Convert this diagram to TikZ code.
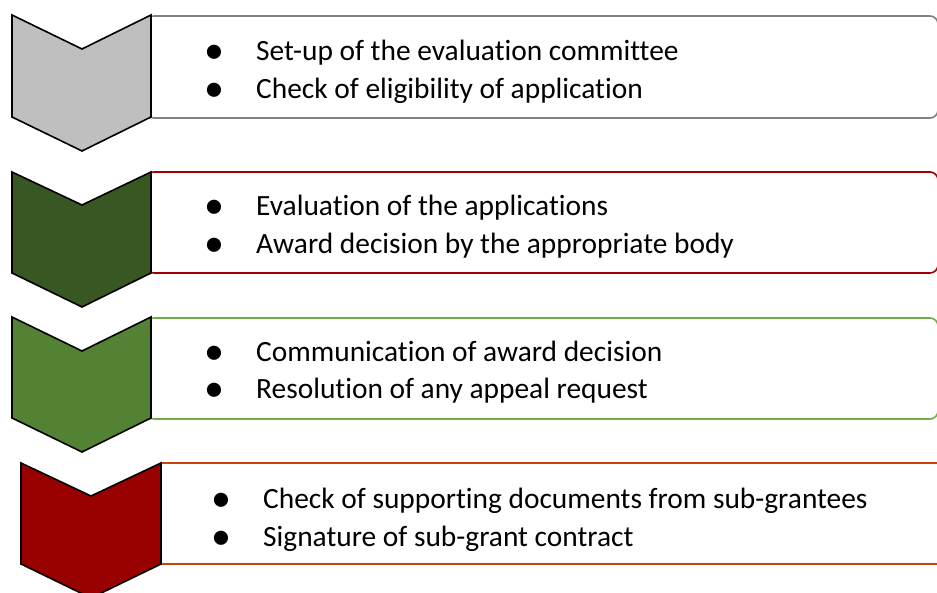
\documentclass[tikz,border=0pt]{standalone}
\usepackage{fontspec}
\setmainfont[Ligatures=NoCommon]{Carlito}

\definecolor{stepgray}{HTML}{BFBFBF}
\definecolor{stepdark}{HTML}{385723}
\definecolor{stepgreen}{HTML}{548235}
\definecolor{stepred}{HTML}{990000}
\definecolor{linegray}{HTML}{808080}
\definecolor{linered}{HTML}{A00000}
\definecolor{linegreen}{HTML}{70AD47}
\definecolor{lineorange}{HTML}{C8410F}

\newcommand{\bulletmark}{\makebox[52pt][l]{\raisebox{-3pt}{\fontsize{40}{37}\selectfont\textbullet}}}

\begin{document}
\begin{tikzpicture}[x=1pt, y=-1pt, inner sep=0pt,
    box/.style={draw=#1, line width=1.6pt, rounded corners=8pt, fill=white},
    chevron/.style={draw=black, line width=1.6pt, fill=#1, line join=miter},
    item/.style={anchor=base west, font=\fontsize{29.4}{37}\selectfont}]
        \useasboundingbox (0, 0) rectangle (937, 593);
        \draw[box=linegray] (146, 16) rectangle (938, 118); % box of step 1
        \draw[box=linered] (146, 172) rectangle (938, 273); % box of step 2
        \draw[box=linegreen] (146, 318) rectangle (938, 419); % box of step 3
        \draw[box=lineorange] (155, 463) rectangle (990, 564); % box of step 4
        \draw[chevron=stepgray] (12, 15) -- (82, 49) -- (151, 15) -- (151, 117) -- (82, 151) -- (12, 117) -- cycle; % step 1
        \draw[chevron=stepdark] (12, 172) -- (82, 205) -- (151, 172) -- (151, 273) -- (82, 307) -- (12, 273) -- cycle; % step 2
        \draw[chevron=stepgreen] (12, 317) -- (82, 351) -- (151, 317) -- (151, 418) -- (82, 452) -- (12, 418) -- cycle; % step 3
        \draw[chevron=stepred] (21, 463) -- (91, 496) -- (161, 463) -- (161, 564) -- (91, 598) -- (21, 564) -- cycle; % step 4
        \node[item] (setup) at (204, 61) {\bulletmark Set-up of the evaluation committee};
        \node[item] (check) at (204, 99) {\bulletmark Check of eligibility of application};
        \node[item] (evaluation) at (204, 216) {\bulletmark Evaluation of the applications};
        \node[item] (award) at (204, 254) {\bulletmark Award decision by the appropriate body};
        \node[item] (communication) at (204, 362) {\bulletmark Communication of award decision};
        \node[item] (appeal) at (204, 399) {\bulletmark Resolution of any appeal request};
        \node[item] (documents) at (211, 508) {\bulletmark Check of supporting documents from sub-grantees};
        \node[item] (signature) at (211, 546) {\bulletmark Signature of sub-grant contract};
    \end{tikzpicture}
\end{document}
